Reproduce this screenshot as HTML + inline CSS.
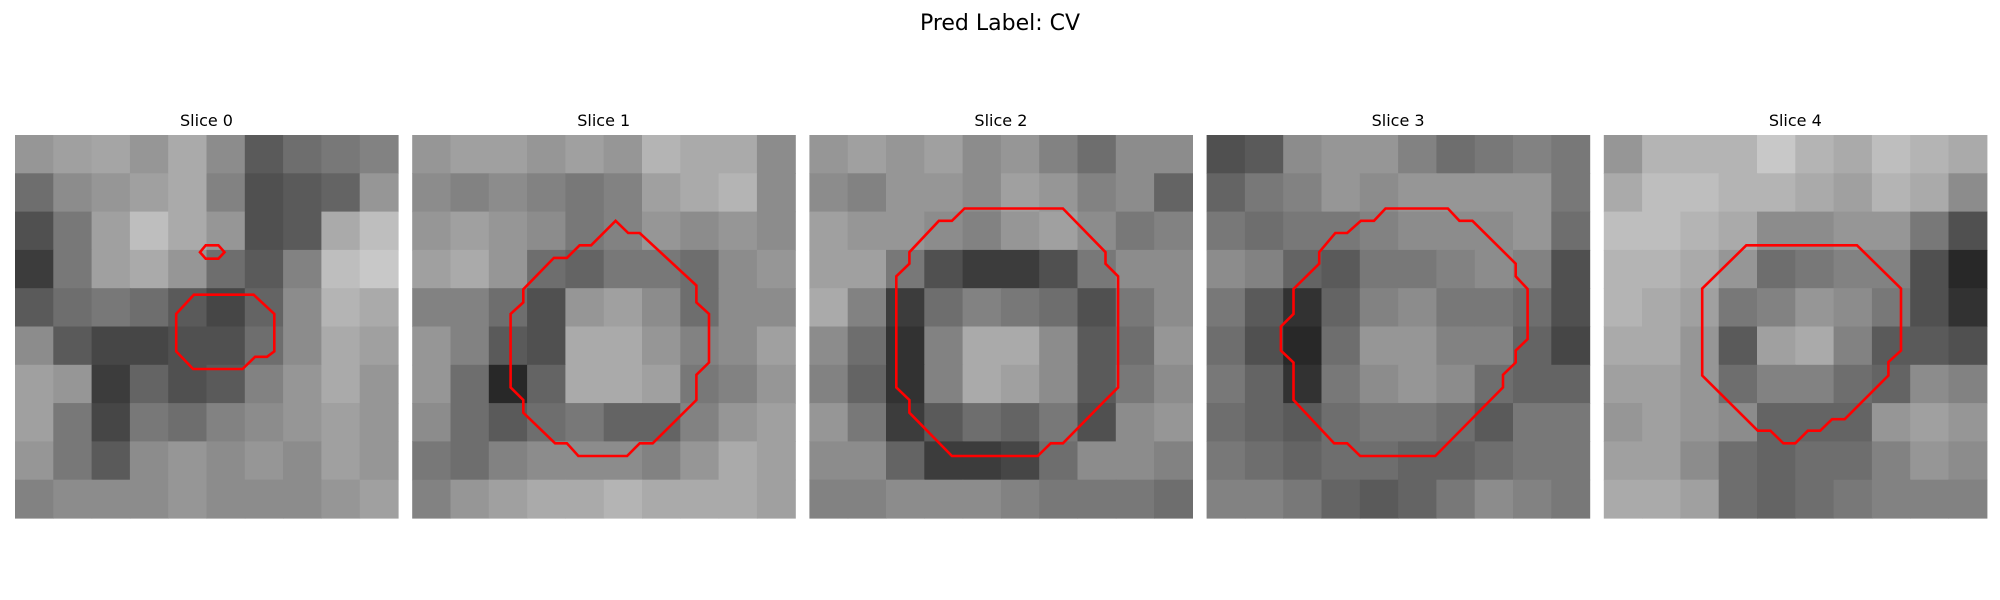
<!DOCTYPE html>
<html><head><meta charset="utf-8"><style>
html,body{margin:0;padding:0;background:#fff;width:2000px;height:600px;overflow:hidden}
svg{display:block;font-family:"DejaVu Sans","Liberation Sans",sans-serif}
</style></head><body>
<svg id="fig" width="2000" height="600" viewBox="0 0 2000 600">
<text x="1000" y="30" font-size="22" text-anchor="middle" fill="#000">Pred Label: CV</text>
</svg>
<script>
const sliceTitles = ["Slice 0","Slice 1","Slice 2","Slice 3","Slice 4"];
const grid0 = [
[150,160,165,150,170,140,90,110,120,130],[110,140,150,160,170,130,80,90,100,150],
[80,120,160,190,170,150,80,90,170,190],[60,120,160,170,150,110,90,130,190,200],
[90,110,120,110,90,70,100,140,180,170],[140,90,70,70,80,80,110,140,170,160],
[160,150,60,100,80,90,130,150,170,150],[160,120,70,120,110,130,140,150,160,150],
[150,120,90,140,150,140,150,140,160,150],[130,140,140,140,150,140,140,140,150,160]];
const grid1 = [
[150,160,160,150,160,150,180,170,170,140],[140,130,140,130,120,130,160,170,180,140],
[150,160,150,140,120,130,150,140,150,140],[160,170,150,110,100,120,120,110,140,150],
[130,130,110,80,150,160,140,110,140,140],[150,130,90,80,170,170,150,130,140,160],
[150,110,40,100,170,170,160,120,130,150],[140,110,90,110,120,100,100,130,150,160],
[120,110,130,140,140,140,130,150,170,160],[130,150,160,170,170,180,170,170,170,160]];
const grid2 = [
[150,160,150,160,140,150,130,110,140,140],[140,130,150,150,140,160,150,130,140,100],
[160,150,150,140,130,150,160,140,120,130],[160,160,120,80,60,60,80,120,140,140],
[170,130,60,110,130,120,110,80,120,140],[140,110,50,130,170,170,140,90,110,150],
[130,100,50,130,170,160,140,90,120,140],[150,120,60,90,110,100,120,80,140,150],
[140,140,100,60,60,70,110,140,140,130],[130,130,140,140,140,130,120,120,120,110]];
const grid3 = [
[80,90,140,150,150,130,110,120,130,120],[100,120,130,150,140,150,150,150,150,120],
[120,110,120,120,130,140,140,140,150,110],[140,130,100,90,120,120,130,140,130,80],
[120,90,50,100,130,140,120,120,110,80],[110,80,40,110,150,150,130,130,100,70],
[120,100,50,120,140,150,140,110,100,100],[110,100,90,110,120,120,110,90,120,120],
[120,110,100,110,110,100,100,110,120,120],[130,130,120,100,90,100,120,140,130,120]];
const grid4 = [
[150,180,180,180,200,180,170,190,180,170],[170,190,190,180,180,170,160,180,170,140],
[190,190,180,170,140,140,150,150,120,80],[180,180,170,150,110,120,130,130,80,40],
[180,170,160,120,130,150,140,120,80,50],[170,170,150,90,160,170,130,90,90,80],
[160,160,150,110,130,130,110,100,140,130],[150,160,150,140,100,100,100,150,160,150],
[160,160,140,110,100,110,110,130,150,140],[170,170,160,110,100,110,120,130,130,130]];
const grids = [grid0,grid1,grid2,grid3,grid4];
const contour0a = [[0.467,0.417],[0.623,0.417],[0.677,0.467],[0.677,0.565],[0.658,0.579],[0.627,0.579],[0.594,0.611],[0.465,0.611],[0.421,0.565],[0.421,0.467]];
const contour0b = [[0.483,0.306],[0.498,0.288],[0.531,0.288],[0.547,0.306],[0.531,0.323],[0.498,0.323]];
const contour1 = [[0.531,0.224],[0.564,0.256],[0.594,0.256],[0.742,0.393],[0.742,0.437],[0.775,0.467],[0.775,0.594],[0.742,0.626],[0.742,0.692],[0.628,0.805],[0.594,0.805],[0.561,0.838],[0.434,0.838],[0.404,0.805],[0.373,0.805],[0.290,0.725],[0.290,0.692],[0.257,0.659],[0.257,0.467],[0.290,0.437],[0.290,0.403],[0.370,0.321],[0.404,0.321],[0.437,0.288],[0.467,0.288]];
const contour2 = [[0.405,0.192],[0.662,0.192],[0.773,0.306],[0.773,0.336],[0.806,0.369],[0.806,0.659],[0.773,0.692],[0.662,0.805],[0.630,0.805],[0.596,0.838],[0.372,0.838],[0.261,0.725],[0.261,0.692],[0.227,0.659],[0.227,0.369],[0.261,0.336],[0.261,0.306],[0.338,0.224],[0.372,0.224]];
const contour3 = [[0.467,0.192],[0.630,0.192],[0.660,0.224],[0.694,0.224],[0.807,0.336],[0.807,0.369],[0.838,0.402],[0.838,0.533],[0.807,0.563],[0.807,0.594],[0.774,0.626],[0.774,0.659],[0.597,0.838],[0.401,0.838],[0.367,0.805],[0.333,0.805],[0.227,0.692],[0.227,0.594],[0.194,0.563],[0.194,0.500],[0.227,0.467],[0.227,0.402],[0.294,0.336],[0.294,0.306],[0.336,0.256],[0.367,0.256],[0.403,0.224],[0.437,0.224]];
const contour4 = [[0.372,0.288],[0.661,0.288],[0.776,0.401],[0.776,0.563],[0.743,0.593],[0.743,0.628],[0.629,0.742],[0.596,0.742],[0.565,0.772],[0.533,0.772],[0.5,0.805],[0.469,0.805],[0.435,0.772],[0.402,0.772],[0.257,0.628],[0.257,0.401]];
const contours = [[contour0a,contour0b],[contour1],[contour2],[contour3],[contour4]];

const NS = "http://www.w3.org/2000/svg";
const svg = document.getElementById('fig');
const panelX0 = 15, panelStep = 397.2, panelY = 135, panelSize = 383;
function px(i, f){ return panelX0 + i*panelStep + f*panelSize; }
function py(f){ return panelY + f*panelSize; }
grids.forEach((g, i) => {
  const grp = document.createElementNS(NS,'g');
  
  
  svg.appendChild(grp);
  const n = g.length, cs = panelSize / n;
  g.forEach((row, r) => row.forEach((v, c) => {
    const rc = document.createElementNS(NS,'rect');
    rc.setAttribute('x', px(i, c/n)); rc.setAttribute('y', py(r/n));
    rc.setAttribute('width', cs+0.6); rc.setAttribute('height', cs+0.6);
    rc.setAttribute('fill', `rgb(${v},${v},${v})`);
    
    
    grp.appendChild(rc);
  }));
  contours[i].forEach(ct => {
    const pl = document.createElementNS(NS,'polygon');
    pl.setAttribute('points', ct.map(p => px(i,p[0]).toFixed(1)+','+py(p[1]).toFixed(1)).join(' '));
    pl.setAttribute('fill','none'); pl.setAttribute('stroke','#ff0000'); pl.setAttribute('stroke-width','2.6');
    
    
    grp.appendChild(pl);
  });
  const t = document.createElementNS(NS,'text');
  t.setAttribute('x', px(i,0.5)); t.setAttribute('y', 126);
  t.setAttribute('font-size','16'); t.setAttribute('text-anchor','middle');
  t.textContent = sliceTitles[i];
  
  
  svg.appendChild(t);
});
</script>
</body></html>
